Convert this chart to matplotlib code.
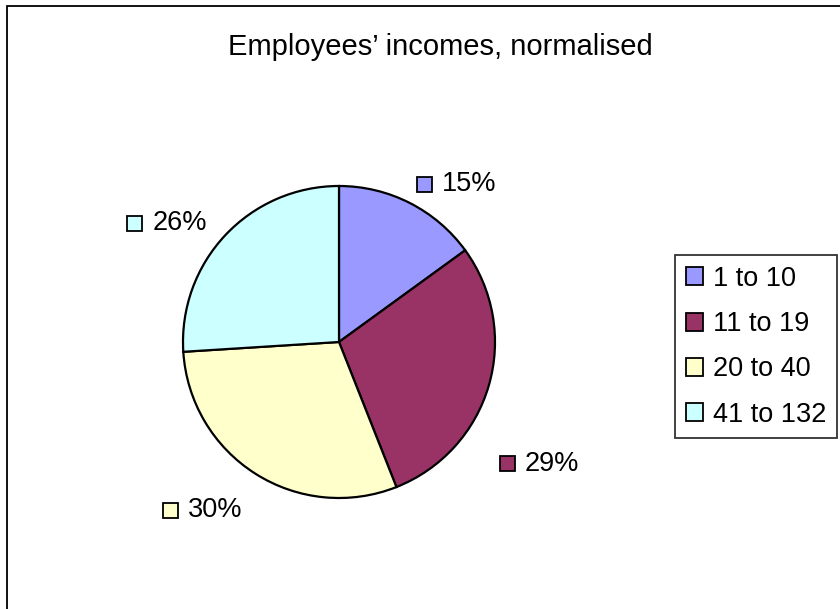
import matplotlib.pyplot as plt
from matplotlib.patches import Rectangle, Patch

plt.rcParams['font.family'] = ['Liberation Sans', 'DejaVu Sans']

# income bands and their share of employees (percent)
bands = ["1 to 10", "11 to 19", "20 to 40", "41 to 132"]
shares = [15, 29, 30, 26]
colors = ["#9999FF", "#993366", "#FFFFCC", "#CCFFFF"]

# where each percentage label sits, in units of the pie radius
label_pos = [(0.55, 1.01), (1.08, -0.78), (-1.08, -1.08), (-1.31, 0.76)]

W, H = 840, 609
fig = plt.figure(figsize=(W / 100, H / 100), dpi=100)

# chart-area frame (only the top and left edges fall inside the image)
fig.patches.append(Rectangle((7 / W, -0.1), 1.2, 1 - 6 / H + 0.1,
                             transform=fig.transFigure, fill=False,
                             edgecolor="black", linewidth=1.3))

fig.text(440 / W, 1 - 47 / H, "Employees\u2019 incomes, normalised",
         ha="center", va="center", fontsize=21)

# pie centred at (339, 342) px with a radius of 156 px
cx, cy, r = 339, 342, 156
ax = fig.add_axes([(cx - r) / W, (H - cy - r) / H, 2 * r / W, 2 * r / H])
wedges, _ = ax.pie(shares, colors=colors, startangle=90, counterclock=False,
                   wedgeprops=dict(edgecolor="black", linewidth=1.6))
ax.set_xlim(-1, 1)
ax.set_ylim(-1, 1)
ax.set_aspect("equal")
ax.axis("off")

sq = 15 / r  # marker square side, in radius units
for share, col, (lx, ly) in zip(shares, colors, label_pos):
    ax.add_patch(Rectangle((lx - sq / 2, ly - sq / 2), sq, sq,
                           facecolor=col, edgecolor="black", linewidth=1.3,
                           clip_on=False))
    ax.text(lx + sq / 2 + 10 / r, ly, f"{share}%", ha="left", va="center",
            fontsize=19.5, clip_on=False)

handles = [Patch(facecolor=c, edgecolor="black", linewidth=1.3) for c in colors]
leg = fig.legend(handles, bands, loc="upper left",
                 bbox_to_anchor=(675 / W, 1 - 255 / H),
                 fontsize=19.5, frameon=True, fancybox=False,
                 handlelength=0.65, handleheight=0.65, handletextpad=0.35,
                 labelspacing=0.71, borderpad=0.4, borderaxespad=0)
leg.get_frame().set_edgecolor("black")
leg.get_frame().set_linewidth(1.3)

fig.savefig("out.png", dpi=100)
